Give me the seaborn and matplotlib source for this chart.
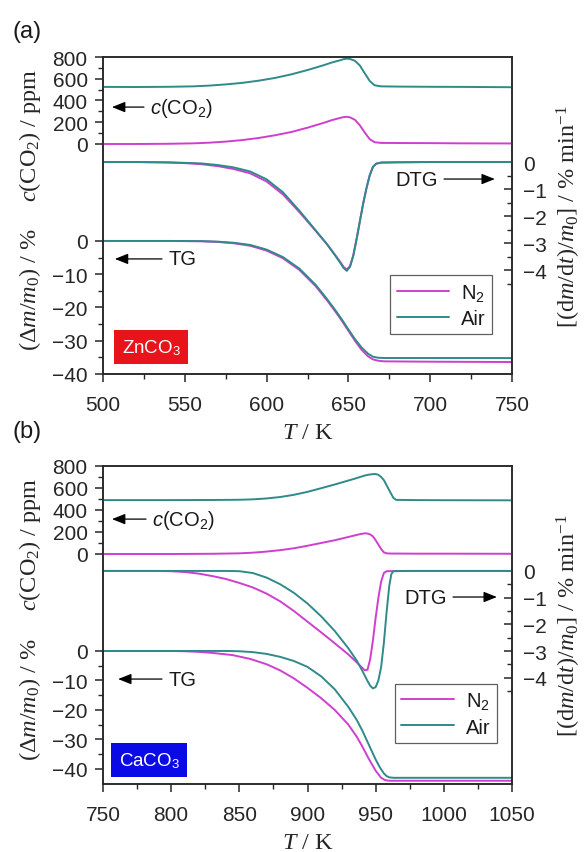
import matplotlib
matplotlib.use("Agg")
import matplotlib.pyplot as plt
import pandas as pd
import seaborn as sns
from matplotlib.ticker import FixedLocator, MultipleLocator
from matplotlib.lines import Line2D

# ---------------- Panel (a): ZnCO3 ----------------
a_co2_T = [500, 520, 540, 555, 565, 575, 585, 595, 605, 615, 625, 635, 640, 645, 647, 649, 651, 654, 657, 660, 663, 666, 670, 680, 700, 720, 750]
a_co2_n2 = [0, 0, 2, 6, 12, 22, 36, 55, 80, 110, 150, 195, 220, 240, 247, 250, 245, 222, 172, 105, 45, 16, 10, 9, 8, 6, 5]
a_co2_air = [525, 524, 526, 530, 537, 548, 562, 582, 607, 640, 680, 725, 750, 770, 780, 785, 782, 765, 722, 650, 580, 540, 530, 528, 526, 525, 522]

a_dtg_T = [500, 520, 540, 550, 560, 570, 580, 590, 600, 610, 620, 630, 637, 642, 645, 647, 649, 651, 653, 655, 657, 659, 661, 663, 665, 667, 670, 680, 700, 750]
a_dtg_n2 = [0, 0, -0.02, -0.04, -0.08, -0.15, -0.26, -0.42, -0.72, -1.2, -1.85, -2.55, -3.05, -3.45, -3.7, -3.88, -3.98, -3.85, -3.45, -2.85, -2.2, -1.55, -0.98, -0.5, -0.18, -0.06, -0.02, -0.01, 0, 0]
a_dtg_air = [0, 0, -0.01, -0.03, -0.05, -0.11, -0.2, -0.35, -0.64, -1.12, -1.8, -2.53, -3.05, -3.47, -3.73, -3.92, -4.03, -3.88, -3.47, -2.86, -2.2, -1.55, -0.98, -0.5, -0.18, -0.06, -0.02, -0.01, 0, 0]

a_tg_T = [500, 540, 560, 570, 580, 590, 600, 610, 620, 630, 637, 642, 646, 650, 654, 658, 662, 665, 668, 672, 700, 750]
a_tg_n2 = [0, 0, -0.1, -0.3, -0.7, -1.45, -2.9, -5.2, -8.7, -13.6, -17.9, -21.2, -24.0, -27.0, -30.0, -32.7, -34.7, -35.6, -36.0, -36.2, -36.3, -36.4]
a_tg_air = [0, 0, -0.05, -0.2, -0.55, -1.2, -2.6, -4.85, -8.3, -13.2, -17.5, -20.8, -23.6, -26.6, -29.5, -32.0, -33.9, -34.8, -35.1, -35.2, -35.2, -35.2]

# ---------------- Panel (b): CaCO3 ----------------
b_co2_T = [750, 800, 830, 850, 860, 870, 880, 890, 900, 910, 920, 930, 935, 939, 942, 944, 946, 948, 950, 952, 954, 956, 958, 961, 963, 965, 980, 1000, 1050]
b_co2_n2 = [0, 0, 2, 6, 12, 22, 35, 52, 75, 100, 125, 155, 170, 182, 188, 186, 178, 160, 125, 85, 45, 15, 6, 4, 4, 4, 3, 3, 2]
b_co2_air = [490, 490, 491, 493, 497, 505, 518, 538, 565, 598, 632, 668, 686, 702, 713, 719, 723, 726, 727, 720, 700, 672, 625, 555, 510, 492, 490, 489, 488]

b_dtg_n2_T = [750, 790, 800, 810, 820, 830, 840, 850, 860, 870, 880, 890, 900, 910, 920, 930, 936, 940, 942, 944, 946, 948, 950, 952, 954, 956, 958, 970, 1050]
b_dtg_n2 = [0, 0, -0.01, -0.04, -0.1, -0.19, -0.3, -0.45, -0.62, -0.85, -1.14, -1.5, -1.9, -2.3, -2.71, -3.13, -3.42, -3.62, -3.72, -3.7, -3.3, -2.6, -1.75, -1.0, -0.4, -0.08, -0.01, 0, 0]
b_dtg_air_T = [750, 840, 850, 860, 870, 880, 890, 900, 910, 920, 930, 936, 940, 944, 946, 948, 950, 952, 954, 956, 958, 960, 961.5, 963, 975, 1050]
b_dtg_air = [0, 0, -0.01, -0.08, -0.25, -0.5, -0.82, -1.22, -1.7, -2.25, -2.9, -3.35, -3.72, -4.12, -4.3, -4.4, -4.35, -4.1, -3.6, -2.7, -1.55, -0.55, -0.12, -0.01, 0, 0]

b_tg_n2_T = [750, 800, 810, 820, 830, 845, 858, 870, 880, 890, 900, 910, 920, 930, 936, 940, 945, 950, 954, 957, 960, 1000, 1050]
b_tg_n2 = [0, 0, -0.1, -0.3, -0.65, -1.4, -2.7, -4.5, -6.6, -9.3, -12.5, -16, -20, -25, -29, -32.2, -36.6, -40.6, -43, -43.8, -44, -44, -44]
b_tg_air_T = [750, 840, 850, 860, 870, 880, 890, 900, 910, 920, 930, 936, 940, 945, 950, 953, 956, 958, 960, 963, 1000, 1050]
b_tg_air = [0, 0, -0.1, -0.4, -1.0, -2.0, -3.4, -5.4, -8.6, -13.0, -19.0, -23.3, -26.8, -31.8, -36.8, -39.4, -41.5, -42.4, -42.85, -43, -43, -43]

gases = ["N2", "Air"]
legend_labels = [r"N$_\mathsf{2}$", "Air"]
co2_ticks = [0, 200, 400, 600, 800]
tg_ticks = [-40, -30, -20, -10, 0]
dtg_ticks = [0, -1, -2, -3, -4]

# ---------------- style ----------------
sns.set_style("ticks")
EDGE = "#262626"
plt.rcParams.update({
    "font.family": ["Liberation Sans", "DejaVu Sans"],
    "mathtext.fontset": "custom",
    "mathtext.rm": "Liberation Serif",
    "mathtext.it": "Liberation Serif:italic",
    "mathtext.bf": "Liberation Serif:bold",
    "mathtext.sf": "Liberation Sans",
    "mathtext.cal": "Liberation Sans:italic",
    "axes.linewidth": 1.1,
    "axes.edgecolor": EDGE,
    "xtick.color": EDGE,
    "ytick.color": EDGE,
    "text.color": "#1a1a1a",
})
N2_C = "#CF3FCF"
AIR_C = "#2F8A8A"
PAL = {"N2": N2_C, "Air": AIR_C}
SERIF = "Liberation Serif"
TICK_FS = 15
LAB_FS = 17.5
LW = 1.4

W, H = 584, 853


def px_rect(x0, y0, x1, y1):
    return [x0 / W, 1 - y1 / H, (x1 - x0) / W, (y1 - y0) / H]


def frame(T_n2, v_n2, T_air, v_air):
    return pd.concat([
        pd.DataFrame({"T": T_n2, "v": v_n2, "gas": "N2"}),
        pd.DataFrame({"T": T_air, "v": v_air, "gas": "Air"}),
    ], ignore_index=True)


fig = plt.figure(figsize=(W / 100, H / 100), dpi=100)


def draw_panel(rect, xlim, co2_lim, tg_lim, dtg_lim, co2_df, dtg_df, tg_df,
               tag, tag_px, mat, mat_color, mat_px, ann, leg_anchor):
    ax_tg = fig.add_axes(rect)
    ax_co2 = fig.add_axes(rect, sharex=ax_tg, frameon=False)
    ax_dtg = ax_tg.twinx()

    for ax, df in ((ax_tg, tg_df), (ax_co2, co2_df), (ax_dtg, dtg_df)):
        sns.lineplot(data=df, x="T", y="v", hue="gas", hue_order=gases,
                     palette=PAL, ax=ax, legend=False, sort=False,
                     estimator=None, linewidth=LW)
        ax.set_xlabel("")
        ax.set_ylabel("")

    ax_tg.set_xlim(*xlim)
    ax_tg.set_ylim(*tg_lim)
    ax_co2.set_ylim(*co2_lim)
    ax_dtg.set_ylim(*dtg_lim)

    # x axis
    ax_tg.xaxis.set_major_locator(MultipleLocator(50))
    ax_tg.xaxis.set_minor_locator(MultipleLocator(25))
    ax_tg.tick_params(axis="x", which="both", direction="out", top=False,
                      labelsize=TICK_FS, pad=9)
    ax_tg.tick_params(axis="x", which="major", length=6, width=1.1)
    ax_tg.tick_params(axis="x", which="minor", length=3.5, width=1.0)
    ax_co2.xaxis.set_visible(False)

    # TG (left, lower)
    ax_tg.yaxis.set_major_locator(FixedLocator(tg_ticks))
    ax_tg.yaxis.set_minor_locator(FixedLocator([-35, -25, -15, -5]))
    ax_tg.tick_params(axis="y", which="both", direction="out", right=False,
                      labelsize=TICK_FS, pad=5)
    ax_tg.tick_params(axis="y", which="major", length=6, width=1.1)
    ax_tg.tick_params(axis="y", which="minor", length=3.5, width=1.0)

    # CO2 (left, upper)
    ax_co2.yaxis.set_major_locator(FixedLocator(co2_ticks))
    ax_co2.yaxis.set_minor_locator(FixedLocator([100, 300, 500, 700]))
    ax_co2.tick_params(axis="y", which="both", direction="out", left=True,
                       right=False, labelsize=TICK_FS, pad=5)
    ax_co2.tick_params(axis="y", which="major", length=6, width=1.1)
    ax_co2.tick_params(axis="y", which="minor", length=3.5, width=1.0)

    # DTG (right)
    ax_dtg.yaxis.set_major_locator(FixedLocator(dtg_ticks))
    ax_dtg.yaxis.set_minor_locator(FixedLocator([-0.5, -1.5, -2.5, -3.5, -4.5]))
    ax_dtg.tick_params(axis="y", which="both", direction="in", labelsize=TICK_FS, pad=8)
    ax_dtg.tick_params(axis="y", which="major", length=6, width=1.1)
    ax_dtg.tick_params(axis="y", which="minor", length=3.5, width=1.0)

    # axis labels
    ax_tg.set_xlabel(r"$T$ / K", family=SERIF, fontsize=LAB_FS, labelpad=6)
    ax_co2.set_ylabel(r"$c$(CO$_2$) / ppm", family=SERIF, fontsize=LAB_FS, va="center")
    ax_co2.yaxis.set_label_coords(-0.178, 0.757)
    ax_tg.set_ylabel(r"($\Delta m/m_0$) / %", family=SERIF, fontsize=LAB_FS, va="center")
    ax_tg.yaxis.set_label_coords(-0.178, 0.268)
    ax_dtg.set_ylabel(r"[(d$m$/d$t$)/$m_0$] / % min$^{-1}$", family=SERIF,
                      fontsize=LAB_FS, va="center", rotation=90)
    ax_dtg.yaxis.set_label_coords(1.14, 0.5)

    # annotations
    arrow = dict(arrowstyle="-|>,head_length=0.55,head_width=0.22", color="black",
                 lw=0.9, shrinkA=2, shrinkB=0)
    for text, head, tpos, ha in ann:
        ax_dtg.annotate(text, xy=head, xytext=tpos, xycoords="axes fraction",
                        textcoords="axes fraction", ha=ha, va="center",
                        fontsize=14.5, arrowprops=arrow)

    # legend
    handles = [Line2D([], [], color=PAL[g], lw=LW) for g in gases]
    leg = ax_dtg.legend(handles, legend_labels, loc="lower left",
                        bbox_to_anchor=leg_anchor, borderaxespad=0,
                        fontsize=14.5, frameon=True, fancybox=False,
                        edgecolor="#606060", framealpha=1, borderpad=0.32,
                        handlelength=2.6, handletextpad=0.6, labelspacing=0.3)
    leg.get_frame().set_linewidth(0.9)

    # material box and panel tag
    fig.text(mat_px[0] / W, 1 - mat_px[1] / H, mat, color="white", fontsize=13.5,
             ha="center", va="center",
             bbox=dict(boxstyle="square,pad=0.38", fc=mat_color, ec="none"))
    fig.text(tag_px[0] / W, 1 - tag_px[1] / H, tag, fontsize=17, ha="left", va="top")


co2_lbl = r"$\mathcal{c}$(CO$_\mathsf{2}$)"

draw_panel(px_rect(103, 58, 512, 375), (500, 750), (-2115, 800), (-40, 55.3), (-7.85, 3.89),
           frame(a_co2_T, a_co2_n2, a_co2_T, a_co2_air),
           frame(a_dtg_T, a_dtg_n2, a_dtg_T, a_dtg_air),
           frame(a_tg_T, a_tg_n2, a_tg_T, a_tg_air),
           "(a)", (12, 21), r"ZnCO$_\mathsf{3}$", "#E8141C", (151, 348),
           [(co2_lbl, (0.022, 0.842), (0.115, 0.842), "left"),
            ("DTG", (0.958, 0.615), (0.819, 0.615), "right"),
            ("TG", (0.029, 0.363), (0.159, 0.363), "left")],
           (0.702, 0.126))

draw_panel(px_rect(103, 467, 512, 785), (750, 1050), (-2091, 800), (-45.1, 62.7), (-7.98, 3.93),
           frame(b_co2_T, b_co2_n2, b_co2_T, b_co2_air),
           frame(b_dtg_n2_T, b_dtg_n2, b_dtg_air_T, b_dtg_air),
           frame(b_tg_n2_T, b_tg_n2, b_tg_air_T, b_tg_air),
           "(b)", (12, 421), r"CaCO$_\mathsf{3}$", "#0A0AE6", (149, 761),
           [(co2_lbl, (0.022, 0.833), (0.12, 0.833), "left"),
            ("DTG", (0.963, 0.588), (0.841, 0.588), "right"),
            ("TG", (0.037, 0.33), (0.159, 0.33), "left")],
           (0.714, 0.129))

fig.savefig("out.png", dpi=100)
